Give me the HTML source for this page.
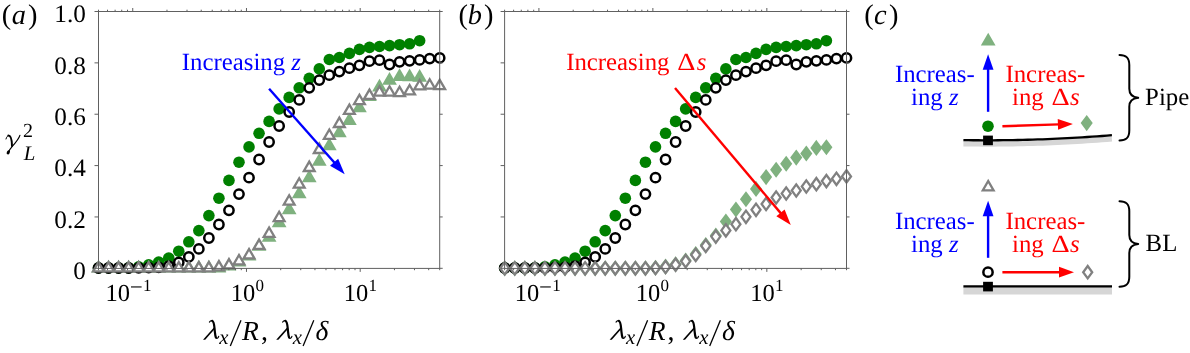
<!DOCTYPE html>
<html><head><meta charset="utf-8"><title>figure</title>
<style>html,body{margin:0;padding:0;background:#fff;}body{width:1190px;height:353px;overflow:hidden;font-family:"Liberation Serif",serif;}</style>
</head><body>
<svg text-rendering="geometricPrecision" width="1190" height="353" viewBox="0 0 1190 353" style="display:block;will-change:transform">
<rect width="1190" height="353" fill="#fff"/>
<polygon points="98.50,261.78 92.85,271.56 104.15,271.56" fill="#7fb17f" stroke="#7fb17f" stroke-width="2.0" stroke-linejoin="miter"/>
<polygon points="108.54,261.78 102.89,271.56 114.19,271.56" fill="#7fb17f" stroke="#7fb17f" stroke-width="2.0" stroke-linejoin="miter"/>
<polygon points="118.57,261.78 112.92,271.56 124.22,271.56" fill="#7fb17f" stroke="#7fb17f" stroke-width="2.0" stroke-linejoin="miter"/>
<polygon points="128.61,261.78 122.96,271.56 134.26,271.56" fill="#7fb17f" stroke="#7fb17f" stroke-width="2.0" stroke-linejoin="miter"/>
<polygon points="138.64,261.78 132.99,271.56 144.29,271.56" fill="#7fb17f" stroke="#7fb17f" stroke-width="2.0" stroke-linejoin="miter"/>
<polygon points="148.68,261.78 143.03,271.56 154.33,271.56" fill="#7fb17f" stroke="#7fb17f" stroke-width="2.0" stroke-linejoin="miter"/>
<polygon points="158.71,261.78 153.06,271.56 164.36,271.56" fill="#7fb17f" stroke="#7fb17f" stroke-width="2.0" stroke-linejoin="miter"/>
<polygon points="168.75,261.78 163.10,271.56 174.40,271.56" fill="#7fb17f" stroke="#7fb17f" stroke-width="2.0" stroke-linejoin="miter"/>
<polygon points="178.78,261.78 173.13,271.56 184.43,271.56" fill="#7fb17f" stroke="#7fb17f" stroke-width="2.0" stroke-linejoin="miter"/>
<polygon points="188.82,261.78 183.17,271.56 194.47,271.56" fill="#7fb17f" stroke="#7fb17f" stroke-width="2.0" stroke-linejoin="miter"/>
<polygon points="198.85,261.78 193.20,271.56 204.50,271.56" fill="#7fb17f" stroke="#7fb17f" stroke-width="2.0" stroke-linejoin="miter"/>
<polygon points="208.89,261.78 203.24,271.56 214.54,271.56" fill="#7fb17f" stroke="#7fb17f" stroke-width="2.0" stroke-linejoin="miter"/>
<polygon points="218.92,261.68 213.27,271.46 224.57,271.46" fill="#7fb17f" stroke="#7fb17f" stroke-width="2.0" stroke-linejoin="miter"/>
<polygon points="228.96,259.78 223.31,269.56 234.61,269.56" fill="#7fb17f" stroke="#7fb17f" stroke-width="2.0" stroke-linejoin="miter"/>
<polygon points="238.99,255.78 233.34,265.56 244.64,265.56" fill="#7fb17f" stroke="#7fb17f" stroke-width="2.0" stroke-linejoin="miter"/>
<polygon points="249.03,249.78 243.38,259.56 254.68,259.56" fill="#7fb17f" stroke="#7fb17f" stroke-width="2.0" stroke-linejoin="miter"/>
<polygon points="259.06,239.98 253.41,249.76 264.71,249.76" fill="#7fb17f" stroke="#7fb17f" stroke-width="2.0" stroke-linejoin="miter"/>
<polygon points="269.10,231.08 263.45,240.86 274.75,240.86" fill="#7fb17f" stroke="#7fb17f" stroke-width="2.0" stroke-linejoin="miter"/>
<polygon points="279.14,216.48 273.49,226.26 284.79,226.26" fill="#7fb17f" stroke="#7fb17f" stroke-width="2.0" stroke-linejoin="miter"/>
<polygon points="289.17,203.48 283.52,213.26 294.82,213.26" fill="#7fb17f" stroke="#7fb17f" stroke-width="2.0" stroke-linejoin="miter"/>
<polygon points="299.21,187.38 293.56,197.16 304.86,197.16" fill="#7fb17f" stroke="#7fb17f" stroke-width="2.0" stroke-linejoin="miter"/>
<polygon points="309.24,171.48 303.59,181.26 314.89,181.26" fill="#7fb17f" stroke="#7fb17f" stroke-width="2.0" stroke-linejoin="miter"/>
<polygon points="319.28,154.98 313.63,164.76 324.93,164.76" fill="#7fb17f" stroke="#7fb17f" stroke-width="2.0" stroke-linejoin="miter"/>
<polygon points="329.31,139.48 323.66,149.26 334.96,149.26" fill="#7fb17f" stroke="#7fb17f" stroke-width="2.0" stroke-linejoin="miter"/>
<polygon points="339.35,126.48 333.70,136.26 345.00,136.26" fill="#7fb17f" stroke="#7fb17f" stroke-width="2.0" stroke-linejoin="miter"/>
<polygon points="349.38,114.18 343.73,123.96 355.03,123.96" fill="#7fb17f" stroke="#7fb17f" stroke-width="2.0" stroke-linejoin="miter"/>
<polygon points="359.42,101.48 353.77,111.26 365.07,111.26" fill="#7fb17f" stroke="#7fb17f" stroke-width="2.0" stroke-linejoin="miter"/>
<polygon points="369.45,90.28 363.80,100.06 375.10,100.06" fill="#7fb17f" stroke="#7fb17f" stroke-width="2.0" stroke-linejoin="miter"/>
<polygon points="379.49,80.68 373.84,90.46 385.14,90.46" fill="#7fb17f" stroke="#7fb17f" stroke-width="2.0" stroke-linejoin="miter"/>
<polygon points="389.52,73.88 383.87,83.66 395.17,83.66" fill="#7fb17f" stroke="#7fb17f" stroke-width="2.0" stroke-linejoin="miter"/>
<polygon points="399.56,70.18 393.91,79.96 405.21,79.96" fill="#7fb17f" stroke="#7fb17f" stroke-width="2.0" stroke-linejoin="miter"/>
<polygon points="409.59,70.48 403.94,80.26 415.24,80.26" fill="#7fb17f" stroke="#7fb17f" stroke-width="2.0" stroke-linejoin="miter"/>
<polygon points="419.63,71.08 413.98,80.86 425.28,80.86" fill="#7fb17f" stroke="#7fb17f" stroke-width="2.0" stroke-linejoin="miter"/>
<circle cx="98.50" cy="268.00" r="5.8" fill="#008000"/>
<circle cx="108.54" cy="268.00" r="5.8" fill="#008000"/>
<circle cx="118.57" cy="268.00" r="5.8" fill="#008000"/>
<circle cx="128.61" cy="267.90" r="5.8" fill="#008000"/>
<circle cx="138.64" cy="266.80" r="5.8" fill="#008000"/>
<circle cx="148.68" cy="264.80" r="5.8" fill="#008000"/>
<circle cx="158.71" cy="262.00" r="5.8" fill="#008000"/>
<circle cx="168.75" cy="258.00" r="5.8" fill="#008000"/>
<circle cx="178.78" cy="251.20" r="5.8" fill="#008000"/>
<circle cx="188.82" cy="241.80" r="5.8" fill="#008000"/>
<circle cx="198.85" cy="230.60" r="5.8" fill="#008000"/>
<circle cx="208.89" cy="215.60" r="5.8" fill="#008000"/>
<circle cx="218.92" cy="198.20" r="5.8" fill="#008000"/>
<circle cx="228.96" cy="180.40" r="5.8" fill="#008000"/>
<circle cx="238.99" cy="162.20" r="5.8" fill="#008000"/>
<circle cx="249.03" cy="146.90" r="5.8" fill="#008000"/>
<circle cx="259.06" cy="133.30" r="5.8" fill="#008000"/>
<circle cx="269.10" cy="121.40" r="5.8" fill="#008000"/>
<circle cx="279.14" cy="108.90" r="5.8" fill="#008000"/>
<circle cx="289.17" cy="97.40" r="5.8" fill="#008000"/>
<circle cx="299.21" cy="87.80" r="5.8" fill="#008000"/>
<circle cx="309.24" cy="78.30" r="5.8" fill="#008000"/>
<circle cx="319.28" cy="68.90" r="5.8" fill="#008000"/>
<circle cx="329.31" cy="59.50" r="5.8" fill="#008000"/>
<circle cx="339.35" cy="57.50" r="5.8" fill="#008000"/>
<circle cx="349.38" cy="53.40" r="5.8" fill="#008000"/>
<circle cx="359.42" cy="49.40" r="5.8" fill="#008000"/>
<circle cx="369.45" cy="47.40" r="5.8" fill="#008000"/>
<circle cx="379.49" cy="46.50" r="5.8" fill="#008000"/>
<circle cx="389.52" cy="45.60" r="5.8" fill="#008000"/>
<circle cx="399.56" cy="44.70" r="5.8" fill="#008000"/>
<circle cx="409.59" cy="43.80" r="5.8" fill="#008000"/>
<circle cx="419.63" cy="40.70" r="5.8" fill="#008000"/>
<circle cx="98.50" cy="268.00" r="4.65" fill="#fff" stroke="#000" stroke-width="2.5"/>
<circle cx="108.54" cy="268.00" r="4.65" fill="#fff" stroke="#000" stroke-width="2.5"/>
<circle cx="118.57" cy="268.00" r="4.65" fill="#fff" stroke="#000" stroke-width="2.5"/>
<circle cx="128.61" cy="268.00" r="4.65" fill="#fff" stroke="#000" stroke-width="2.5"/>
<circle cx="138.64" cy="267.90" r="4.65" fill="#fff" stroke="#000" stroke-width="2.5"/>
<circle cx="148.68" cy="267.70" r="4.65" fill="#fff" stroke="#000" stroke-width="2.5"/>
<circle cx="158.71" cy="267.40" r="4.65" fill="#fff" stroke="#000" stroke-width="2.5"/>
<circle cx="168.75" cy="266.20" r="4.65" fill="#fff" stroke="#000" stroke-width="2.5"/>
<circle cx="178.78" cy="262.30" r="4.65" fill="#fff" stroke="#000" stroke-width="2.5"/>
<circle cx="188.82" cy="256.90" r="4.65" fill="#fff" stroke="#000" stroke-width="2.5"/>
<circle cx="198.85" cy="248.90" r="4.65" fill="#fff" stroke="#000" stroke-width="2.5"/>
<circle cx="208.89" cy="238.00" r="4.65" fill="#fff" stroke="#000" stroke-width="2.5"/>
<circle cx="218.92" cy="224.50" r="4.65" fill="#fff" stroke="#000" stroke-width="2.5"/>
<circle cx="228.96" cy="210.30" r="4.65" fill="#fff" stroke="#000" stroke-width="2.5"/>
<circle cx="238.99" cy="194.10" r="4.65" fill="#fff" stroke="#000" stroke-width="2.5"/>
<circle cx="249.03" cy="177.70" r="4.65" fill="#fff" stroke="#000" stroke-width="2.5"/>
<circle cx="259.06" cy="159.50" r="4.65" fill="#fff" stroke="#000" stroke-width="2.5"/>
<circle cx="269.10" cy="142.00" r="4.65" fill="#fff" stroke="#000" stroke-width="2.5"/>
<circle cx="279.14" cy="126.00" r="4.65" fill="#fff" stroke="#000" stroke-width="2.5"/>
<circle cx="289.17" cy="112.00" r="4.65" fill="#fff" stroke="#000" stroke-width="2.5"/>
<circle cx="299.21" cy="99.90" r="4.65" fill="#fff" stroke="#000" stroke-width="2.5"/>
<circle cx="309.24" cy="87.80" r="4.65" fill="#fff" stroke="#000" stroke-width="2.5"/>
<circle cx="319.28" cy="80.10" r="4.65" fill="#fff" stroke="#000" stroke-width="2.5"/>
<circle cx="329.31" cy="75.20" r="4.65" fill="#fff" stroke="#000" stroke-width="2.5"/>
<circle cx="339.35" cy="71.60" r="4.65" fill="#fff" stroke="#000" stroke-width="2.5"/>
<circle cx="349.38" cy="68.20" r="4.65" fill="#fff" stroke="#000" stroke-width="2.5"/>
<circle cx="359.42" cy="65.30" r="4.65" fill="#fff" stroke="#000" stroke-width="2.5"/>
<circle cx="369.45" cy="61.20" r="4.65" fill="#fff" stroke="#000" stroke-width="2.5"/>
<circle cx="379.49" cy="60.20" r="4.65" fill="#fff" stroke="#000" stroke-width="2.5"/>
<circle cx="389.52" cy="64.50" r="4.65" fill="#fff" stroke="#000" stroke-width="2.5"/>
<circle cx="399.56" cy="61.80" r="4.65" fill="#fff" stroke="#000" stroke-width="2.5"/>
<circle cx="409.59" cy="60.80" r="4.65" fill="#fff" stroke="#000" stroke-width="2.5"/>
<circle cx="419.63" cy="59.90" r="4.65" fill="#fff" stroke="#000" stroke-width="2.5"/>
<circle cx="429.66" cy="58.60" r="4.65" fill="#fff" stroke="#000" stroke-width="2.5"/>
<circle cx="439.70" cy="57.90" r="4.65" fill="#fff" stroke="#000" stroke-width="2.5"/>
<polygon points="98.50,262.06 93.10,271.42 103.90,271.42" fill="#fff" stroke="#808080" stroke-width="2.3" stroke-linejoin="miter"/>
<polygon points="108.54,262.06 103.14,271.42 113.94,271.42" fill="#fff" stroke="#808080" stroke-width="2.3" stroke-linejoin="miter"/>
<polygon points="118.57,262.06 113.17,271.42 123.97,271.42" fill="#fff" stroke="#808080" stroke-width="2.3" stroke-linejoin="miter"/>
<polygon points="128.61,262.06 123.21,271.42 134.01,271.42" fill="#fff" stroke="#808080" stroke-width="2.3" stroke-linejoin="miter"/>
<polygon points="138.64,262.06 133.24,271.42 144.04,271.42" fill="#fff" stroke="#808080" stroke-width="2.3" stroke-linejoin="miter"/>
<polygon points="148.68,262.06 143.28,271.42 154.08,271.42" fill="#fff" stroke="#808080" stroke-width="2.3" stroke-linejoin="miter"/>
<polygon points="158.71,262.06 153.31,271.42 164.11,271.42" fill="#fff" stroke="#808080" stroke-width="2.3" stroke-linejoin="miter"/>
<polygon points="168.75,262.06 163.35,271.42 174.15,271.42" fill="#fff" stroke="#808080" stroke-width="2.3" stroke-linejoin="miter"/>
<polygon points="178.78,262.06 173.38,271.42 184.18,271.42" fill="#fff" stroke="#808080" stroke-width="2.3" stroke-linejoin="miter"/>
<polygon points="188.82,262.06 183.42,271.42 194.22,271.42" fill="#fff" stroke="#808080" stroke-width="2.3" stroke-linejoin="miter"/>
<polygon points="198.85,262.06 193.45,271.42 204.25,271.42" fill="#fff" stroke="#808080" stroke-width="2.3" stroke-linejoin="miter"/>
<polygon points="208.89,261.96 203.49,271.32 214.29,271.32" fill="#fff" stroke="#808080" stroke-width="2.3" stroke-linejoin="miter"/>
<polygon points="218.92,261.06 213.52,270.42 224.32,270.42" fill="#fff" stroke="#808080" stroke-width="2.3" stroke-linejoin="miter"/>
<polygon points="228.96,259.06 223.56,268.42 234.36,268.42" fill="#fff" stroke="#808080" stroke-width="2.3" stroke-linejoin="miter"/>
<polygon points="238.99,254.96 233.59,264.32 244.39,264.32" fill="#fff" stroke="#808080" stroke-width="2.3" stroke-linejoin="miter"/>
<polygon points="249.03,248.96 243.63,258.32 254.43,258.32" fill="#fff" stroke="#808080" stroke-width="2.3" stroke-linejoin="miter"/>
<polygon points="259.06,239.56 253.66,248.92 264.46,248.92" fill="#fff" stroke="#808080" stroke-width="2.3" stroke-linejoin="miter"/>
<polygon points="269.10,227.46 263.70,236.82 274.50,236.82" fill="#fff" stroke="#808080" stroke-width="2.3" stroke-linejoin="miter"/>
<polygon points="279.14,211.76 273.74,221.12 284.54,221.12" fill="#fff" stroke="#808080" stroke-width="2.3" stroke-linejoin="miter"/>
<polygon points="289.17,195.26 283.77,204.62 294.57,204.62" fill="#fff" stroke="#808080" stroke-width="2.3" stroke-linejoin="miter"/>
<polygon points="299.21,178.26 293.81,187.62 304.61,187.62" fill="#fff" stroke="#808080" stroke-width="2.3" stroke-linejoin="miter"/>
<polygon points="309.24,161.66 303.84,171.02 314.64,171.02" fill="#fff" stroke="#808080" stroke-width="2.3" stroke-linejoin="miter"/>
<polygon points="319.28,143.66 313.88,153.02 324.68,153.02" fill="#fff" stroke="#808080" stroke-width="2.3" stroke-linejoin="miter"/>
<polygon points="329.31,129.46 323.91,138.82 334.71,138.82" fill="#fff" stroke="#808080" stroke-width="2.3" stroke-linejoin="miter"/>
<polygon points="339.35,117.66 333.95,127.02 344.75,127.02" fill="#fff" stroke="#808080" stroke-width="2.3" stroke-linejoin="miter"/>
<polygon points="349.38,104.56 343.98,113.92 354.78,113.92" fill="#fff" stroke="#808080" stroke-width="2.3" stroke-linejoin="miter"/>
<polygon points="359.42,94.76 354.02,104.12 364.82,104.12" fill="#fff" stroke="#808080" stroke-width="2.3" stroke-linejoin="miter"/>
<polygon points="369.45,89.56 364.05,98.92 374.85,98.92" fill="#fff" stroke="#808080" stroke-width="2.3" stroke-linejoin="miter"/>
<polygon points="379.49,86.26 374.09,95.62 384.89,95.62" fill="#fff" stroke="#808080" stroke-width="2.3" stroke-linejoin="miter"/>
<polygon points="389.52,86.26 384.12,95.62 394.92,95.62" fill="#fff" stroke="#808080" stroke-width="2.3" stroke-linejoin="miter"/>
<polygon points="399.56,86.76 394.16,96.12 404.96,96.12" fill="#fff" stroke="#808080" stroke-width="2.3" stroke-linejoin="miter"/>
<polygon points="409.59,84.96 404.19,94.32 414.99,94.32" fill="#fff" stroke="#808080" stroke-width="2.3" stroke-linejoin="miter"/>
<polygon points="419.63,79.96 414.23,89.32 425.03,89.32" fill="#fff" stroke="#808080" stroke-width="2.3" stroke-linejoin="miter"/>
<polygon points="429.66,79.26 424.26,88.62 435.06,88.62" fill="#fff" stroke="#808080" stroke-width="2.3" stroke-linejoin="miter"/>
<polygon points="439.70,79.86 434.30,89.22 445.10,89.22" fill="#fff" stroke="#808080" stroke-width="2.3" stroke-linejoin="miter"/>
<polygon points="504.70,261.90 509.50,268.30 504.70,274.70 499.90,268.30" fill="#7fb17f" stroke="#7fb17f" stroke-width="2.0" stroke-linejoin="miter"/>
<polygon points="514.75,261.90 519.55,268.30 514.75,274.70 509.95,268.30" fill="#7fb17f" stroke="#7fb17f" stroke-width="2.0" stroke-linejoin="miter"/>
<polygon points="524.81,261.90 529.61,268.30 524.81,274.70 520.01,268.30" fill="#7fb17f" stroke="#7fb17f" stroke-width="2.0" stroke-linejoin="miter"/>
<polygon points="534.86,261.90 539.66,268.30 534.86,274.70 530.06,268.30" fill="#7fb17f" stroke="#7fb17f" stroke-width="2.0" stroke-linejoin="miter"/>
<polygon points="544.91,261.90 549.71,268.30 544.91,274.70 540.11,268.30" fill="#7fb17f" stroke="#7fb17f" stroke-width="2.0" stroke-linejoin="miter"/>
<polygon points="554.96,261.90 559.76,268.30 554.96,274.70 550.16,268.30" fill="#7fb17f" stroke="#7fb17f" stroke-width="2.0" stroke-linejoin="miter"/>
<polygon points="565.02,261.90 569.82,268.30 565.02,274.70 560.22,268.30" fill="#7fb17f" stroke="#7fb17f" stroke-width="2.0" stroke-linejoin="miter"/>
<polygon points="575.07,261.90 579.87,268.30 575.07,274.70 570.27,268.30" fill="#7fb17f" stroke="#7fb17f" stroke-width="2.0" stroke-linejoin="miter"/>
<polygon points="585.12,261.90 589.92,268.30 585.12,274.70 580.32,268.30" fill="#7fb17f" stroke="#7fb17f" stroke-width="2.0" stroke-linejoin="miter"/>
<polygon points="595.18,261.90 599.98,268.30 595.18,274.70 590.38,268.30" fill="#7fb17f" stroke="#7fb17f" stroke-width="2.0" stroke-linejoin="miter"/>
<polygon points="605.23,261.90 610.03,268.30 605.23,274.70 600.43,268.30" fill="#7fb17f" stroke="#7fb17f" stroke-width="2.0" stroke-linejoin="miter"/>
<polygon points="615.28,261.90 620.08,268.30 615.28,274.70 610.48,268.30" fill="#7fb17f" stroke="#7fb17f" stroke-width="2.0" stroke-linejoin="miter"/>
<polygon points="625.34,261.90 630.14,268.30 625.34,274.70 620.54,268.30" fill="#7fb17f" stroke="#7fb17f" stroke-width="2.0" stroke-linejoin="miter"/>
<polygon points="635.39,261.90 640.19,268.30 635.39,274.70 630.59,268.30" fill="#7fb17f" stroke="#7fb17f" stroke-width="2.0" stroke-linejoin="miter"/>
<polygon points="645.44,261.90 650.24,268.30 645.44,274.70 640.64,268.30" fill="#7fb17f" stroke="#7fb17f" stroke-width="2.0" stroke-linejoin="miter"/>
<polygon points="655.49,261.40 660.29,267.80 655.49,274.20 650.69,267.80" fill="#7fb17f" stroke="#7fb17f" stroke-width="2.0" stroke-linejoin="miter"/>
<polygon points="665.55,260.20 670.35,266.60 665.55,273.00 660.75,266.60" fill="#7fb17f" stroke="#7fb17f" stroke-width="2.0" stroke-linejoin="miter"/>
<polygon points="675.60,257.80 680.40,264.20 675.60,270.60 670.80,264.20" fill="#7fb17f" stroke="#7fb17f" stroke-width="2.0" stroke-linejoin="miter"/>
<polygon points="685.65,254.10 690.45,260.50 685.65,266.90 680.85,260.50" fill="#7fb17f" stroke="#7fb17f" stroke-width="2.0" stroke-linejoin="miter"/>
<polygon points="695.71,247.60 700.51,254.00 695.71,260.40 690.91,254.00" fill="#7fb17f" stroke="#7fb17f" stroke-width="2.0" stroke-linejoin="miter"/>
<polygon points="705.76,238.60 710.56,245.00 705.76,251.40 700.96,245.00" fill="#7fb17f" stroke="#7fb17f" stroke-width="2.0" stroke-linejoin="miter"/>
<polygon points="715.81,229.20 720.61,235.60 715.81,242.00 711.01,235.60" fill="#7fb17f" stroke="#7fb17f" stroke-width="2.0" stroke-linejoin="miter"/>
<polygon points="725.86,215.10 730.66,221.50 725.86,227.90 721.06,221.50" fill="#7fb17f" stroke="#7fb17f" stroke-width="2.0" stroke-linejoin="miter"/>
<polygon points="735.92,203.10 740.72,209.50 735.92,215.90 731.12,209.50" fill="#7fb17f" stroke="#7fb17f" stroke-width="2.0" stroke-linejoin="miter"/>
<polygon points="745.97,192.90 750.77,199.30 745.97,205.70 741.17,199.30" fill="#7fb17f" stroke="#7fb17f" stroke-width="2.0" stroke-linejoin="miter"/>
<polygon points="756.02,182.50 760.82,188.90 756.02,195.30 751.22,188.90" fill="#7fb17f" stroke="#7fb17f" stroke-width="2.0" stroke-linejoin="miter"/>
<polygon points="766.08,170.70 770.88,177.10 766.08,183.50 761.28,177.10" fill="#7fb17f" stroke="#7fb17f" stroke-width="2.0" stroke-linejoin="miter"/>
<polygon points="776.13,163.30 780.93,169.70 776.13,176.10 771.33,169.70" fill="#7fb17f" stroke="#7fb17f" stroke-width="2.0" stroke-linejoin="miter"/>
<polygon points="786.18,157.40 790.98,163.80 786.18,170.20 781.38,163.80" fill="#7fb17f" stroke="#7fb17f" stroke-width="2.0" stroke-linejoin="miter"/>
<polygon points="796.24,151.20 801.04,157.60 796.24,164.00 791.44,157.60" fill="#7fb17f" stroke="#7fb17f" stroke-width="2.0" stroke-linejoin="miter"/>
<polygon points="806.29,147.10 811.09,153.50 806.29,159.90 801.49,153.50" fill="#7fb17f" stroke="#7fb17f" stroke-width="2.0" stroke-linejoin="miter"/>
<polygon points="816.34,141.50 821.14,147.90 816.34,154.30 811.54,147.90" fill="#7fb17f" stroke="#7fb17f" stroke-width="2.0" stroke-linejoin="miter"/>
<polygon points="826.39,140.80 831.19,147.20 826.39,153.60 821.59,147.20" fill="#7fb17f" stroke="#7fb17f" stroke-width="2.0" stroke-linejoin="miter"/>
<circle cx="504.70" cy="268.00" r="5.8" fill="#008000"/>
<circle cx="514.75" cy="268.00" r="5.8" fill="#008000"/>
<circle cx="524.81" cy="268.00" r="5.8" fill="#008000"/>
<circle cx="534.86" cy="267.90" r="5.8" fill="#008000"/>
<circle cx="544.91" cy="266.80" r="5.8" fill="#008000"/>
<circle cx="554.96" cy="264.80" r="5.8" fill="#008000"/>
<circle cx="565.02" cy="262.00" r="5.8" fill="#008000"/>
<circle cx="575.07" cy="258.00" r="5.8" fill="#008000"/>
<circle cx="585.12" cy="251.20" r="5.8" fill="#008000"/>
<circle cx="595.18" cy="241.80" r="5.8" fill="#008000"/>
<circle cx="605.23" cy="230.60" r="5.8" fill="#008000"/>
<circle cx="615.28" cy="215.60" r="5.8" fill="#008000"/>
<circle cx="625.34" cy="198.20" r="5.8" fill="#008000"/>
<circle cx="635.39" cy="180.40" r="5.8" fill="#008000"/>
<circle cx="645.44" cy="162.20" r="5.8" fill="#008000"/>
<circle cx="655.49" cy="146.90" r="5.8" fill="#008000"/>
<circle cx="665.55" cy="133.30" r="5.8" fill="#008000"/>
<circle cx="675.60" cy="121.40" r="5.8" fill="#008000"/>
<circle cx="685.65" cy="108.90" r="5.8" fill="#008000"/>
<circle cx="695.71" cy="97.40" r="5.8" fill="#008000"/>
<circle cx="705.76" cy="87.80" r="5.8" fill="#008000"/>
<circle cx="715.81" cy="78.30" r="5.8" fill="#008000"/>
<circle cx="725.86" cy="68.90" r="5.8" fill="#008000"/>
<circle cx="735.92" cy="59.50" r="5.8" fill="#008000"/>
<circle cx="745.97" cy="57.50" r="5.8" fill="#008000"/>
<circle cx="756.02" cy="53.40" r="5.8" fill="#008000"/>
<circle cx="766.08" cy="49.40" r="5.8" fill="#008000"/>
<circle cx="776.13" cy="47.40" r="5.8" fill="#008000"/>
<circle cx="786.18" cy="46.50" r="5.8" fill="#008000"/>
<circle cx="796.24" cy="45.60" r="5.8" fill="#008000"/>
<circle cx="806.29" cy="44.70" r="5.8" fill="#008000"/>
<circle cx="816.34" cy="43.80" r="5.8" fill="#008000"/>
<circle cx="826.39" cy="40.70" r="5.8" fill="#008000"/>
<circle cx="504.70" cy="268.00" r="4.65" fill="#fff" stroke="#000" stroke-width="2.5"/>
<circle cx="514.75" cy="268.00" r="4.65" fill="#fff" stroke="#000" stroke-width="2.5"/>
<circle cx="524.81" cy="268.00" r="4.65" fill="#fff" stroke="#000" stroke-width="2.5"/>
<circle cx="534.86" cy="268.00" r="4.65" fill="#fff" stroke="#000" stroke-width="2.5"/>
<circle cx="544.91" cy="267.90" r="4.65" fill="#fff" stroke="#000" stroke-width="2.5"/>
<circle cx="554.96" cy="267.70" r="4.65" fill="#fff" stroke="#000" stroke-width="2.5"/>
<circle cx="565.02" cy="267.40" r="4.65" fill="#fff" stroke="#000" stroke-width="2.5"/>
<circle cx="575.07" cy="266.20" r="4.65" fill="#fff" stroke="#000" stroke-width="2.5"/>
<circle cx="585.12" cy="262.30" r="4.65" fill="#fff" stroke="#000" stroke-width="2.5"/>
<circle cx="595.18" cy="256.90" r="4.65" fill="#fff" stroke="#000" stroke-width="2.5"/>
<circle cx="605.23" cy="248.90" r="4.65" fill="#fff" stroke="#000" stroke-width="2.5"/>
<circle cx="615.28" cy="238.00" r="4.65" fill="#fff" stroke="#000" stroke-width="2.5"/>
<circle cx="625.34" cy="224.50" r="4.65" fill="#fff" stroke="#000" stroke-width="2.5"/>
<circle cx="635.39" cy="210.30" r="4.65" fill="#fff" stroke="#000" stroke-width="2.5"/>
<circle cx="645.44" cy="194.10" r="4.65" fill="#fff" stroke="#000" stroke-width="2.5"/>
<circle cx="655.49" cy="177.70" r="4.65" fill="#fff" stroke="#000" stroke-width="2.5"/>
<circle cx="665.55" cy="159.50" r="4.65" fill="#fff" stroke="#000" stroke-width="2.5"/>
<circle cx="675.60" cy="142.00" r="4.65" fill="#fff" stroke="#000" stroke-width="2.5"/>
<circle cx="685.65" cy="126.00" r="4.65" fill="#fff" stroke="#000" stroke-width="2.5"/>
<circle cx="695.71" cy="112.00" r="4.65" fill="#fff" stroke="#000" stroke-width="2.5"/>
<circle cx="705.76" cy="99.90" r="4.65" fill="#fff" stroke="#000" stroke-width="2.5"/>
<circle cx="715.81" cy="87.80" r="4.65" fill="#fff" stroke="#000" stroke-width="2.5"/>
<circle cx="725.86" cy="80.10" r="4.65" fill="#fff" stroke="#000" stroke-width="2.5"/>
<circle cx="735.92" cy="75.20" r="4.65" fill="#fff" stroke="#000" stroke-width="2.5"/>
<circle cx="745.97" cy="71.60" r="4.65" fill="#fff" stroke="#000" stroke-width="2.5"/>
<circle cx="756.02" cy="68.20" r="4.65" fill="#fff" stroke="#000" stroke-width="2.5"/>
<circle cx="766.08" cy="65.30" r="4.65" fill="#fff" stroke="#000" stroke-width="2.5"/>
<circle cx="776.13" cy="61.20" r="4.65" fill="#fff" stroke="#000" stroke-width="2.5"/>
<circle cx="786.18" cy="60.20" r="4.65" fill="#fff" stroke="#000" stroke-width="2.5"/>
<circle cx="796.24" cy="64.50" r="4.65" fill="#fff" stroke="#000" stroke-width="2.5"/>
<circle cx="806.29" cy="61.80" r="4.65" fill="#fff" stroke="#000" stroke-width="2.5"/>
<circle cx="816.34" cy="60.80" r="4.65" fill="#fff" stroke="#000" stroke-width="2.5"/>
<circle cx="826.39" cy="59.90" r="4.65" fill="#fff" stroke="#000" stroke-width="2.5"/>
<circle cx="836.45" cy="58.60" r="4.65" fill="#fff" stroke="#000" stroke-width="2.5"/>
<circle cx="846.50" cy="57.90" r="4.65" fill="#fff" stroke="#000" stroke-width="2.5"/>
<polygon points="504.70,262.15 509.20,268.30 504.70,274.45 500.20,268.30" fill="#fff" stroke="#808080" stroke-width="2.3" stroke-linejoin="miter"/>
<polygon points="514.75,262.15 519.25,268.30 514.75,274.45 510.25,268.30" fill="#fff" stroke="#808080" stroke-width="2.3" stroke-linejoin="miter"/>
<polygon points="524.81,262.15 529.31,268.30 524.81,274.45 520.31,268.30" fill="#fff" stroke="#808080" stroke-width="2.3" stroke-linejoin="miter"/>
<polygon points="534.86,262.15 539.36,268.30 534.86,274.45 530.36,268.30" fill="#fff" stroke="#808080" stroke-width="2.3" stroke-linejoin="miter"/>
<polygon points="544.91,262.15 549.41,268.30 544.91,274.45 540.41,268.30" fill="#fff" stroke="#808080" stroke-width="2.3" stroke-linejoin="miter"/>
<polygon points="554.96,262.15 559.46,268.30 554.96,274.45 550.46,268.30" fill="#fff" stroke="#808080" stroke-width="2.3" stroke-linejoin="miter"/>
<polygon points="565.02,262.15 569.52,268.30 565.02,274.45 560.52,268.30" fill="#fff" stroke="#808080" stroke-width="2.3" stroke-linejoin="miter"/>
<polygon points="575.07,262.15 579.57,268.30 575.07,274.45 570.57,268.30" fill="#fff" stroke="#808080" stroke-width="2.3" stroke-linejoin="miter"/>
<polygon points="585.12,262.15 589.62,268.30 585.12,274.45 580.62,268.30" fill="#fff" stroke="#808080" stroke-width="2.3" stroke-linejoin="miter"/>
<polygon points="595.18,262.15 599.68,268.30 595.18,274.45 590.68,268.30" fill="#fff" stroke="#808080" stroke-width="2.3" stroke-linejoin="miter"/>
<polygon points="605.23,262.15 609.73,268.30 605.23,274.45 600.73,268.30" fill="#fff" stroke="#808080" stroke-width="2.3" stroke-linejoin="miter"/>
<polygon points="615.28,262.15 619.78,268.30 615.28,274.45 610.78,268.30" fill="#fff" stroke="#808080" stroke-width="2.3" stroke-linejoin="miter"/>
<polygon points="625.34,262.15 629.84,268.30 625.34,274.45 620.84,268.30" fill="#fff" stroke="#808080" stroke-width="2.3" stroke-linejoin="miter"/>
<polygon points="635.39,262.15 639.89,268.30 635.39,274.45 630.89,268.30" fill="#fff" stroke="#808080" stroke-width="2.3" stroke-linejoin="miter"/>
<polygon points="645.44,262.15 649.94,268.30 645.44,274.45 640.94,268.30" fill="#fff" stroke="#808080" stroke-width="2.3" stroke-linejoin="miter"/>
<polygon points="655.49,261.85 659.99,268.00 655.49,274.15 650.99,268.00" fill="#fff" stroke="#808080" stroke-width="2.3" stroke-linejoin="miter"/>
<polygon points="665.55,260.85 670.05,267.00 665.55,273.15 661.05,267.00" fill="#fff" stroke="#808080" stroke-width="2.3" stroke-linejoin="miter"/>
<polygon points="675.60,258.55 680.10,264.70 675.60,270.85 671.10,264.70" fill="#fff" stroke="#808080" stroke-width="2.3" stroke-linejoin="miter"/>
<polygon points="685.65,255.05 690.15,261.20 685.65,267.35 681.15,261.20" fill="#fff" stroke="#808080" stroke-width="2.3" stroke-linejoin="miter"/>
<polygon points="695.71,248.75 700.21,254.90 695.71,261.05 691.21,254.90" fill="#fff" stroke="#808080" stroke-width="2.3" stroke-linejoin="miter"/>
<polygon points="705.76,239.75 710.26,245.90 705.76,252.05 701.26,245.90" fill="#fff" stroke="#808080" stroke-width="2.3" stroke-linejoin="miter"/>
<polygon points="715.81,230.45 720.31,236.60 715.81,242.75 711.31,236.60" fill="#fff" stroke="#808080" stroke-width="2.3" stroke-linejoin="miter"/>
<polygon points="725.86,224.25 730.36,230.40 725.86,236.55 721.36,230.40" fill="#fff" stroke="#808080" stroke-width="2.3" stroke-linejoin="miter"/>
<polygon points="735.92,218.05 740.42,224.20 735.92,230.35 731.42,224.20" fill="#fff" stroke="#808080" stroke-width="2.3" stroke-linejoin="miter"/>
<polygon points="745.97,210.65 750.47,216.80 745.97,222.95 741.47,216.80" fill="#fff" stroke="#808080" stroke-width="2.3" stroke-linejoin="miter"/>
<polygon points="756.02,203.65 760.52,209.80 756.02,215.95 751.52,209.80" fill="#fff" stroke="#808080" stroke-width="2.3" stroke-linejoin="miter"/>
<polygon points="766.08,197.85 770.58,204.00 766.08,210.15 761.58,204.00" fill="#fff" stroke="#808080" stroke-width="2.3" stroke-linejoin="miter"/>
<polygon points="776.13,191.35 780.63,197.50 776.13,203.65 771.63,197.50" fill="#fff" stroke="#808080" stroke-width="2.3" stroke-linejoin="miter"/>
<polygon points="786.18,187.35 790.68,193.50 786.18,199.65 781.68,193.50" fill="#fff" stroke="#808080" stroke-width="2.3" stroke-linejoin="miter"/>
<polygon points="796.24,184.35 800.74,190.50 796.24,196.65 791.74,190.50" fill="#fff" stroke="#808080" stroke-width="2.3" stroke-linejoin="miter"/>
<polygon points="806.29,180.35 810.79,186.50 806.29,192.65 801.79,186.50" fill="#fff" stroke="#808080" stroke-width="2.3" stroke-linejoin="miter"/>
<polygon points="816.34,178.05 820.84,184.20 816.34,190.35 811.84,184.20" fill="#fff" stroke="#808080" stroke-width="2.3" stroke-linejoin="miter"/>
<polygon points="826.39,174.95 830.89,181.10 826.39,187.25 821.89,181.10" fill="#fff" stroke="#808080" stroke-width="2.3" stroke-linejoin="miter"/>
<polygon points="836.45,172.65 840.95,178.80 836.45,184.95 831.95,178.80" fill="#fff" stroke="#808080" stroke-width="2.3" stroke-linejoin="miter"/>
<polygon points="846.50,170.25 851.00,176.40 846.50,182.55 842.00,176.40" fill="#fff" stroke="#808080" stroke-width="2.3" stroke-linejoin="miter"/>
<g stroke="#606060" stroke-width="1.0" fill="none">
<rect x="98.5" y="11.5" width="341.2" height="256.9"/>
<line x1="94.5" y1="268.30" x2="98.5" y2="268.30"/>
<line x1="439.7" y1="268.30" x2="442.7" y2="268.30"/>
<line x1="94.5" y1="216.94" x2="98.5" y2="216.94"/>
<line x1="439.7" y1="216.94" x2="442.7" y2="216.94"/>
<line x1="94.5" y1="165.58" x2="98.5" y2="165.58"/>
<line x1="439.7" y1="165.58" x2="442.7" y2="165.58"/>
<line x1="94.5" y1="114.22" x2="98.5" y2="114.22"/>
<line x1="439.7" y1="114.22" x2="442.7" y2="114.22"/>
<line x1="94.5" y1="62.86" x2="98.5" y2="62.86"/>
<line x1="439.7" y1="62.86" x2="442.7" y2="62.86"/>
<line x1="94.5" y1="11.50" x2="98.5" y2="11.50"/>
<line x1="439.7" y1="11.50" x2="442.7" y2="11.50"/>
<line x1="98.50" y1="268.4" x2="98.50" y2="270.2"/>
<line x1="98.50" y1="11.5" x2="98.50" y2="9.7"/>
<line x1="107.51" y1="268.4" x2="107.51" y2="270.2"/>
<line x1="107.51" y1="11.5" x2="107.51" y2="9.7"/>
<line x1="115.12" y1="268.4" x2="115.12" y2="270.2"/>
<line x1="115.12" y1="11.5" x2="115.12" y2="9.7"/>
<line x1="121.72" y1="268.4" x2="121.72" y2="270.2"/>
<line x1="121.72" y1="11.5" x2="121.72" y2="9.7"/>
<line x1="127.53" y1="268.4" x2="127.53" y2="270.2"/>
<line x1="127.53" y1="11.5" x2="127.53" y2="9.7"/>
<line x1="132.74" y1="268.4" x2="132.74" y2="271.9"/>
<line x1="132.74" y1="11.5" x2="132.74" y2="8.0"/>
<line x1="166.97" y1="268.4" x2="166.97" y2="270.2"/>
<line x1="166.97" y1="11.5" x2="166.97" y2="9.7"/>
<line x1="187.00" y1="268.4" x2="187.00" y2="270.2"/>
<line x1="187.00" y1="11.5" x2="187.00" y2="9.7"/>
<line x1="201.21" y1="268.4" x2="201.21" y2="270.2"/>
<line x1="201.21" y1="11.5" x2="201.21" y2="9.7"/>
<line x1="212.23" y1="268.4" x2="212.23" y2="270.2"/>
<line x1="212.23" y1="11.5" x2="212.23" y2="9.7"/>
<line x1="221.24" y1="268.4" x2="221.24" y2="270.2"/>
<line x1="221.24" y1="11.5" x2="221.24" y2="9.7"/>
<line x1="228.85" y1="268.4" x2="228.85" y2="270.2"/>
<line x1="228.85" y1="11.5" x2="228.85" y2="9.7"/>
<line x1="235.45" y1="268.4" x2="235.45" y2="270.2"/>
<line x1="235.45" y1="11.5" x2="235.45" y2="9.7"/>
<line x1="241.27" y1="268.4" x2="241.27" y2="270.2"/>
<line x1="241.27" y1="11.5" x2="241.27" y2="9.7"/>
<line x1="246.47" y1="268.4" x2="246.47" y2="271.9"/>
<line x1="246.47" y1="11.5" x2="246.47" y2="8.0"/>
<line x1="280.71" y1="268.4" x2="280.71" y2="270.2"/>
<line x1="280.71" y1="11.5" x2="280.71" y2="9.7"/>
<line x1="300.74" y1="268.4" x2="300.74" y2="270.2"/>
<line x1="300.74" y1="11.5" x2="300.74" y2="9.7"/>
<line x1="314.94" y1="268.4" x2="314.94" y2="270.2"/>
<line x1="314.94" y1="11.5" x2="314.94" y2="9.7"/>
<line x1="325.97" y1="268.4" x2="325.97" y2="270.2"/>
<line x1="325.97" y1="11.5" x2="325.97" y2="9.7"/>
<line x1="334.97" y1="268.4" x2="334.97" y2="270.2"/>
<line x1="334.97" y1="11.5" x2="334.97" y2="9.7"/>
<line x1="342.59" y1="268.4" x2="342.59" y2="270.2"/>
<line x1="342.59" y1="11.5" x2="342.59" y2="9.7"/>
<line x1="349.18" y1="268.4" x2="349.18" y2="270.2"/>
<line x1="349.18" y1="11.5" x2="349.18" y2="9.7"/>
<line x1="355.00" y1="268.4" x2="355.00" y2="270.2"/>
<line x1="355.00" y1="11.5" x2="355.00" y2="9.7"/>
<line x1="360.20" y1="268.4" x2="360.20" y2="271.9"/>
<line x1="360.20" y1="11.5" x2="360.20" y2="8.0"/>
<line x1="394.44" y1="268.4" x2="394.44" y2="270.2"/>
<line x1="394.44" y1="11.5" x2="394.44" y2="9.7"/>
<line x1="414.47" y1="268.4" x2="414.47" y2="270.2"/>
<line x1="414.47" y1="11.5" x2="414.47" y2="9.7"/>
<line x1="428.68" y1="268.4" x2="428.68" y2="270.2"/>
<line x1="428.68" y1="11.5" x2="428.68" y2="9.7"/>
<line x1="439.70" y1="268.4" x2="439.70" y2="270.2"/>
<line x1="439.70" y1="11.5" x2="439.70" y2="9.7"/>
</g>
<g stroke="#606060" stroke-width="1.0" fill="none">
<rect x="504.6" y="11.5" width="341.9" height="256.9"/>
<line x1="500.6" y1="268.30" x2="504.6" y2="268.30"/>
<line x1="846.5" y1="268.30" x2="849.5" y2="268.30"/>
<line x1="500.6" y1="216.94" x2="504.6" y2="216.94"/>
<line x1="846.5" y1="216.94" x2="849.5" y2="216.94"/>
<line x1="500.6" y1="165.58" x2="504.6" y2="165.58"/>
<line x1="846.5" y1="165.58" x2="849.5" y2="165.58"/>
<line x1="500.6" y1="114.22" x2="504.6" y2="114.22"/>
<line x1="846.5" y1="114.22" x2="849.5" y2="114.22"/>
<line x1="500.6" y1="62.86" x2="504.6" y2="62.86"/>
<line x1="846.5" y1="62.86" x2="849.5" y2="62.86"/>
<line x1="500.6" y1="11.50" x2="504.6" y2="11.50"/>
<line x1="846.5" y1="11.50" x2="849.5" y2="11.50"/>
<line x1="504.60" y1="268.4" x2="504.60" y2="270.2"/>
<line x1="504.60" y1="11.5" x2="504.60" y2="9.7"/>
<line x1="513.62" y1="268.4" x2="513.62" y2="270.2"/>
<line x1="513.62" y1="11.5" x2="513.62" y2="9.7"/>
<line x1="521.25" y1="268.4" x2="521.25" y2="270.2"/>
<line x1="521.25" y1="11.5" x2="521.25" y2="9.7"/>
<line x1="527.86" y1="268.4" x2="527.86" y2="270.2"/>
<line x1="527.86" y1="11.5" x2="527.86" y2="9.7"/>
<line x1="533.69" y1="268.4" x2="533.69" y2="270.2"/>
<line x1="533.69" y1="11.5" x2="533.69" y2="9.7"/>
<line x1="538.91" y1="268.4" x2="538.91" y2="271.9"/>
<line x1="538.91" y1="11.5" x2="538.91" y2="8.0"/>
<line x1="573.21" y1="268.4" x2="573.21" y2="270.2"/>
<line x1="573.21" y1="11.5" x2="573.21" y2="9.7"/>
<line x1="593.28" y1="268.4" x2="593.28" y2="270.2"/>
<line x1="593.28" y1="11.5" x2="593.28" y2="9.7"/>
<line x1="607.52" y1="268.4" x2="607.52" y2="270.2"/>
<line x1="607.52" y1="11.5" x2="607.52" y2="9.7"/>
<line x1="618.57" y1="268.4" x2="618.57" y2="270.2"/>
<line x1="618.57" y1="11.5" x2="618.57" y2="9.7"/>
<line x1="627.59" y1="268.4" x2="627.59" y2="270.2"/>
<line x1="627.59" y1="11.5" x2="627.59" y2="9.7"/>
<line x1="635.22" y1="268.4" x2="635.22" y2="270.2"/>
<line x1="635.22" y1="11.5" x2="635.22" y2="9.7"/>
<line x1="641.83" y1="268.4" x2="641.83" y2="270.2"/>
<line x1="641.83" y1="11.5" x2="641.83" y2="9.7"/>
<line x1="647.66" y1="268.4" x2="647.66" y2="270.2"/>
<line x1="647.66" y1="11.5" x2="647.66" y2="9.7"/>
<line x1="652.87" y1="268.4" x2="652.87" y2="271.9"/>
<line x1="652.87" y1="11.5" x2="652.87" y2="8.0"/>
<line x1="687.18" y1="268.4" x2="687.18" y2="270.2"/>
<line x1="687.18" y1="11.5" x2="687.18" y2="9.7"/>
<line x1="707.25" y1="268.4" x2="707.25" y2="270.2"/>
<line x1="707.25" y1="11.5" x2="707.25" y2="9.7"/>
<line x1="721.49" y1="268.4" x2="721.49" y2="270.2"/>
<line x1="721.49" y1="11.5" x2="721.49" y2="9.7"/>
<line x1="732.53" y1="268.4" x2="732.53" y2="270.2"/>
<line x1="732.53" y1="11.5" x2="732.53" y2="9.7"/>
<line x1="741.56" y1="268.4" x2="741.56" y2="270.2"/>
<line x1="741.56" y1="11.5" x2="741.56" y2="9.7"/>
<line x1="749.19" y1="268.4" x2="749.19" y2="270.2"/>
<line x1="749.19" y1="11.5" x2="749.19" y2="9.7"/>
<line x1="755.80" y1="268.4" x2="755.80" y2="270.2"/>
<line x1="755.80" y1="11.5" x2="755.80" y2="9.7"/>
<line x1="761.63" y1="268.4" x2="761.63" y2="270.2"/>
<line x1="761.63" y1="11.5" x2="761.63" y2="9.7"/>
<line x1="766.84" y1="268.4" x2="766.84" y2="271.9"/>
<line x1="766.84" y1="11.5" x2="766.84" y2="8.0"/>
<line x1="801.15" y1="268.4" x2="801.15" y2="270.2"/>
<line x1="801.15" y1="11.5" x2="801.15" y2="9.7"/>
<line x1="821.22" y1="268.4" x2="821.22" y2="270.2"/>
<line x1="821.22" y1="11.5" x2="821.22" y2="9.7"/>
<line x1="835.46" y1="268.4" x2="835.46" y2="270.2"/>
<line x1="835.46" y1="11.5" x2="835.46" y2="9.7"/>
<line x1="846.50" y1="268.4" x2="846.50" y2="270.2"/>
<line x1="846.50" y1="11.5" x2="846.50" y2="9.7"/>
</g>
<line x1="269.10" y1="88.70" x2="334.76" y2="162.96" stroke="#0000ff" stroke-width="2.4"/>
<polygon points="344.70,174.20 330.06,165.79 338.15,158.64" fill="#0000ff"/>
<line x1="675.00" y1="88.00" x2="781.12" y2="213.64" stroke="#ff0000" stroke-width="2.4"/>
<polygon points="790.80,225.10 776.35,216.36 784.60,209.39" fill="#ff0000"/>
<g font-family="'Liberation Serif', serif">
<text x="85.80" y="279.00" font-size="25.2" fill="#000" text-anchor="end">0</text>
<text x="85.80" y="227.64" font-size="25.2" fill="#000" text-anchor="end">0.2</text>
<text x="85.80" y="176.28" font-size="25.2" fill="#000" text-anchor="end">0.4</text>
<text x="85.80" y="124.92" font-size="25.2" fill="#000" text-anchor="end">0.6</text>
<text x="85.80" y="73.56" font-size="25.2" fill="#000" text-anchor="end">0.8</text>
<text x="85.80" y="22.20" font-size="25.2" fill="#000" text-anchor="end">1.0</text>
<text x="105.44" y="300.50" font-size="24.5" fill="#000">10</text>
<rect x="131.00" y="286.4" width="10.6" height="1.1" fill="#000"/>
<text x="143.10" y="291.20" font-size="17.0" fill="#000">1</text>
<text x="230.64" y="300.50" font-size="24.5" fill="#000">10</text>
<text x="255.45" y="291.20" font-size="17.0" fill="#000">0</text>
<text x="343.74" y="300.50" font-size="24.5" fill="#000">10</text>
<text x="368.60" y="291.20" font-size="17.0" fill="#000">1</text>
<text x="514.64" y="300.50" font-size="24.5" fill="#000">10</text>
<rect x="540.20" y="286.4" width="10.6" height="1.1" fill="#000"/>
<text x="552.30" y="291.20" font-size="17.0" fill="#000">1</text>
<text x="635.64" y="300.50" font-size="24.5" fill="#000">10</text>
<text x="660.45" y="291.20" font-size="17.0" fill="#000">0</text>
<text x="750.24" y="300.50" font-size="24.5" fill="#000">10</text>
<text x="775.10" y="291.20" font-size="17.0" fill="#000">1</text>
<text x="1.85" y="24.00" font-size="28.4" fill="#000">(</text>
<text x="11.85" y="24.00" font-size="28.4" fill="#000" font-style="italic">a</text>
<text x="28.00" y="24.00" font-size="28.4" fill="#000">)</text>
<text x="458.45" y="24.00" font-size="28.4" fill="#000">(</text>
<text x="467.85" y="24.00" font-size="28.4" fill="#000" font-style="italic">b</text>
<text x="484.10" y="24.00" font-size="28.4" fill="#000">)</text>
<text x="864.15" y="24.00" font-size="28.4" fill="#000">(</text>
<text x="874.00" y="24.00" font-size="28.4" fill="#000" font-style="italic">c</text>
<text x="889.10" y="24.00" font-size="28.4" fill="#000">)</text>
<g transform="translate(0.00,0)">
<path d="M209.4,322.1 C210.2,320.9 211.4,320.4 212.4,320.7" fill="none" stroke="#000" stroke-width="1.1" stroke-linecap="round"/>
<path d="M212.2,320.9 C214.4,321.6 214.4,327.5 214.8,331.4 C215.1,334.3 215.3,336.2 215.9,337.4" fill="none" stroke="#000" stroke-width="2.2" stroke-linecap="round"/>
<path d="M215.8,337.2 C216.6,339.2 218.1,338.4 218.7,336.4" fill="none" stroke="#000" stroke-width="1.2" stroke-linecap="round"/>
<polygon points="213.9,327.5 214.7,329.0 205.2,339.8 203.0,339.8" fill="#000"/>
</g>
<g transform="translate(73.20,0)">
<path d="M209.4,322.1 C210.2,320.9 211.4,320.4 212.4,320.7" fill="none" stroke="#000" stroke-width="1.1" stroke-linecap="round"/>
<path d="M212.2,320.9 C214.4,321.6 214.4,327.5 214.8,331.4 C215.1,334.3 215.3,336.2 215.9,337.4" fill="none" stroke="#000" stroke-width="2.2" stroke-linecap="round"/>
<path d="M215.8,337.2 C216.6,339.2 218.1,338.4 218.7,336.4" fill="none" stroke="#000" stroke-width="1.2" stroke-linecap="round"/>
<polygon points="213.9,327.5 214.7,329.0 205.2,339.8 203.0,339.8" fill="#000"/>
</g>
<text x="219.35" y="344.40" font-size="20.7" fill="#000" font-style="italic">x</text>
<text x="292.65" y="344.40" font-size="20.7" fill="#000" font-style="italic">x</text>
<line x1="230.30" y1="346.0" x2="241.00" y2="320.3" stroke="#000" stroke-width="1.3"/>
<line x1="303.10" y1="346.0" x2="313.80" y2="320.3" stroke="#000" stroke-width="1.3"/>
<text x="242.10" y="339.60" font-size="27.5" fill="#000" font-style="italic">R</text>
<text x="260.90" y="339.60" font-size="28" fill="#000">,</text>
<text x="315.40" y="339.60" font-size="27.6" fill="#000" font-style="italic">δ</text>
<g transform="translate(406.60,0)">
<path d="M209.4,322.1 C210.2,320.9 211.4,320.4 212.4,320.7" fill="none" stroke="#000" stroke-width="1.1" stroke-linecap="round"/>
<path d="M212.2,320.9 C214.4,321.6 214.4,327.5 214.8,331.4 C215.1,334.3 215.3,336.2 215.9,337.4" fill="none" stroke="#000" stroke-width="2.2" stroke-linecap="round"/>
<path d="M215.8,337.2 C216.6,339.2 218.1,338.4 218.7,336.4" fill="none" stroke="#000" stroke-width="1.2" stroke-linecap="round"/>
<polygon points="213.9,327.5 214.7,329.0 205.2,339.8 203.0,339.8" fill="#000"/>
</g>
<g transform="translate(479.80,0)">
<path d="M209.4,322.1 C210.2,320.9 211.4,320.4 212.4,320.7" fill="none" stroke="#000" stroke-width="1.1" stroke-linecap="round"/>
<path d="M212.2,320.9 C214.4,321.6 214.4,327.5 214.8,331.4 C215.1,334.3 215.3,336.2 215.9,337.4" fill="none" stroke="#000" stroke-width="2.2" stroke-linecap="round"/>
<path d="M215.8,337.2 C216.6,339.2 218.1,338.4 218.7,336.4" fill="none" stroke="#000" stroke-width="1.2" stroke-linecap="round"/>
<polygon points="213.9,327.5 214.7,329.0 205.2,339.8 203.0,339.8" fill="#000"/>
</g>
<text x="625.95" y="344.40" font-size="20.7" fill="#000" font-style="italic">x</text>
<text x="699.25" y="344.40" font-size="20.7" fill="#000" font-style="italic">x</text>
<line x1="636.90" y1="346.0" x2="647.60" y2="320.3" stroke="#000" stroke-width="1.3"/>
<line x1="709.70" y1="346.0" x2="720.40" y2="320.3" stroke="#000" stroke-width="1.3"/>
<text x="648.70" y="339.60" font-size="27.5" fill="#000" font-style="italic">R</text>
<text x="667.50" y="339.60" font-size="28" fill="#000">,</text>
<text x="722.00" y="339.60" font-size="27.6" fill="#000" font-style="italic">δ</text>
<g fill="none" stroke="#000" stroke-linecap="round">
<path d="M6.0,139.0 C6.5,137.0 7.6,135.5 8.6,135.5" stroke-width="1.0"/>
<path d="M8.4,135.6 C10.6,135.6 11.9,140.5 12.0,146.0" stroke-width="2.0"/>
<path d="M19.9,135.4 C18.6,139.5 14.0,144.5 11.9,146.8 C10.3,148.6 9.2,150.4 8.6,151.8" stroke-width="1.2"/>
</g>
<ellipse cx="8.3" cy="152.3" rx="1.5" ry="2.2" transform="rotate(25 8.3 152.3)" fill="#000"/>
<text x="22.92" y="136.70" font-size="20" fill="#000">2</text>
<text x="23.75" y="159.70" font-size="20.8" fill="#000" font-style="italic">L</text>
</g>
<g font-family="'Liberation Serif', serif">
<text x="181.80" y="69.90" font-size="24.8" fill="#0000ff">Increasing <tspan font-style="italic">z</tspan></text>
<text x="566.20" y="69.90" font-size="24.8" fill="#ff0000">Increasing</text>
<text transform="translate(677.23,69.90) scale(1.14,1)" font-size="24.8" fill="#ff0000">Δ</text>
<text x="696.80" y="69.90" font-size="24.8" fill="#ff0000" font-style="italic">s</text>
<text x="934.80" y="81.50" font-size="24.8" fill="#0000ff" text-anchor="middle">Increas-</text>
<text x="934.80" y="105.00" font-size="24.8" fill="#0000ff" text-anchor="middle">ing <tspan font-style="italic">z</tspan></text>
<text x="1045.40" y="81.50" font-size="24.8" fill="#ff0000" text-anchor="middle">Increas-</text>
<text x="1012.00" y="105.00" font-size="24.8" fill="#ff0000">ing</text>
<text transform="translate(1051.53,105.00) scale(1.14,1)" font-size="24.8" fill="#ff0000">Δ</text>
<text x="1070.00" y="105.00" font-size="24.8" fill="#ff0000" font-style="italic">s</text>
<text x="934.80" y="228.50" font-size="24.8" fill="#0000ff" text-anchor="middle">Increas-</text>
<text x="934.80" y="252.00" font-size="24.8" fill="#0000ff" text-anchor="middle">ing <tspan font-style="italic">z</tspan></text>
<text x="1045.40" y="228.50" font-size="24.8" fill="#ff0000" text-anchor="middle">Increas-</text>
<text x="1012.00" y="252.00" font-size="24.8" fill="#ff0000">ing</text>
<text transform="translate(1051.53,252.00) scale(1.14,1)" font-size="24.8" fill="#ff0000">Δ</text>
<text x="1070.00" y="252.00" font-size="24.8" fill="#ff0000" font-style="italic">s</text>
<text x="1145.10" y="105.30" font-size="24.8" fill="#000">Pipe</text>
<text x="1145.60" y="251.10" font-size="24.8" fill="#000">BL</text>
</g>
<path d="M963.40,143.72 L968.35,143.79 L973.30,143.84 L978.25,143.87 L983.20,143.90 L988.15,143.90 L993.10,143.89 L998.05,143.86 L1003.00,143.82 L1007.95,143.76 L1012.90,143.68 L1017.85,143.59 L1022.80,143.48 L1027.75,143.36 L1032.70,143.22 L1037.65,143.06 L1042.60,142.89 L1047.55,142.70 L1052.50,142.50 L1057.45,142.28 L1062.40,142.04 L1067.35,141.79 L1072.30,141.52 L1077.25,141.24 L1082.20,140.94 L1087.15,140.62 L1092.10,140.29 L1097.05,139.94 L1102.00,139.58 L1106.95,139.20 L1111.90,138.80" fill="none" stroke="#d6d6d6" stroke-width="5.5"/>
<path d="M963.40,140.12 L968.35,140.19 L973.30,140.24 L978.25,140.27 L983.20,140.30 L988.15,140.30 L993.10,140.29 L998.05,140.26 L1003.00,140.22 L1007.95,140.16 L1012.90,140.08 L1017.85,139.99 L1022.80,139.88 L1027.75,139.76 L1032.70,139.62 L1037.65,139.46 L1042.60,139.29 L1047.55,139.10 L1052.50,138.90 L1057.45,138.68 L1062.40,138.44 L1067.35,138.19 L1072.30,137.92 L1077.25,137.64 L1082.20,137.34 L1087.15,137.02 L1092.10,136.69 L1097.05,136.34 L1102.00,135.98 L1106.95,135.60 L1111.90,135.20" fill="none" stroke="#000" stroke-width="2.3"/>
<rect x="983.1" y="135.6" width="9.8" height="9.6" fill="#000"/>
<rect x="963.4" y="287" width="148.6" height="7.5" fill="#d6d6d6"/>
<line x1="963.4" y1="286.3" x2="1112" y2="286.3" stroke="#000" stroke-width="2.3"/>
<rect x="983.1" y="281.8" width="9.8" height="9.6" fill="#000"/>
<polygon points="988.20,34.67 982.55,44.45 993.85,44.45" fill="#7fb17f" stroke="#7fb17f" stroke-width="2.0" stroke-linejoin="miter"/>
<circle cx="988.00" cy="126.20" r="5.8" fill="#008000"/>
<polygon points="1086.70,116.70 1091.50,123.10 1086.70,129.50 1081.90,123.10" fill="#7fb17f" stroke="#7fb17f" stroke-width="2.0" stroke-linejoin="miter"/>
<polygon points="988.20,180.95 982.80,190.31 993.60,190.31" fill="#fff" stroke="#808080" stroke-width="2.3" stroke-linejoin="miter"/>
<circle cx="988.00" cy="272.20" r="4.65" fill="#fff" stroke="#000" stroke-width="2.5"/>
<polygon points="1087.70,266.05 1092.20,272.20 1087.70,278.35 1083.20,272.20" fill="#fff" stroke="#808080" stroke-width="2.3" stroke-linejoin="miter"/>
<line x1="988.10" y1="111.80" x2="988.10" y2="68.80" stroke="#0000ff" stroke-width="2.4"/>
<polygon points="988.10,54.30 993.50,69.80 982.70,69.80" fill="#0000ff"/>
<line x1="988.10" y1="257.80" x2="988.10" y2="215.30" stroke="#0000ff" stroke-width="2.4"/>
<polygon points="988.10,200.80 993.50,216.30 982.70,216.30" fill="#0000ff"/>
<line x1="1002.40" y1="126.20" x2="1058.91" y2="124.36" stroke="#ff0000" stroke-width="2.4"/>
<polygon points="1072.90,123.90 1058.08,129.79 1057.73,118.99" fill="#ff0000"/>
<line x1="1002.40" y1="272.20" x2="1060.00" y2="272.20" stroke="#ff0000" stroke-width="2.4"/>
<polygon points="1074.00,272.20 1059.00,277.60 1059.00,266.80" fill="#ff0000"/>
<path d="M1119.5,55.1 C1125.5,55.1 1129.3,57.1 1129.3,65.1 L1129.3,88.85 C1129.3,94.85 1132.3,97.35 1138.2,97.85 C1132.3,98.35 1129.3,100.85 1129.3,106.85 L1129.3,130.6 C1129.3,138.6 1125.5,140.6 1119.5,140.6" fill="none" stroke="#000" stroke-width="2" stroke-linecap="round" stroke-linejoin="round"/>
<path d="M1119.5,201.2 C1125.5,201.2 1129.3,203.2 1129.3,211.2 L1129.3,234.95 C1129.3,240.95 1132.3,243.45 1138.2,243.95 C1132.3,244.45 1129.3,246.95 1129.3,252.95 L1129.3,276.7 C1129.3,284.7 1125.5,286.7 1119.5,286.7" fill="none" stroke="#000" stroke-width="2" stroke-linecap="round" stroke-linejoin="round"/>
</svg>
</body></html>
